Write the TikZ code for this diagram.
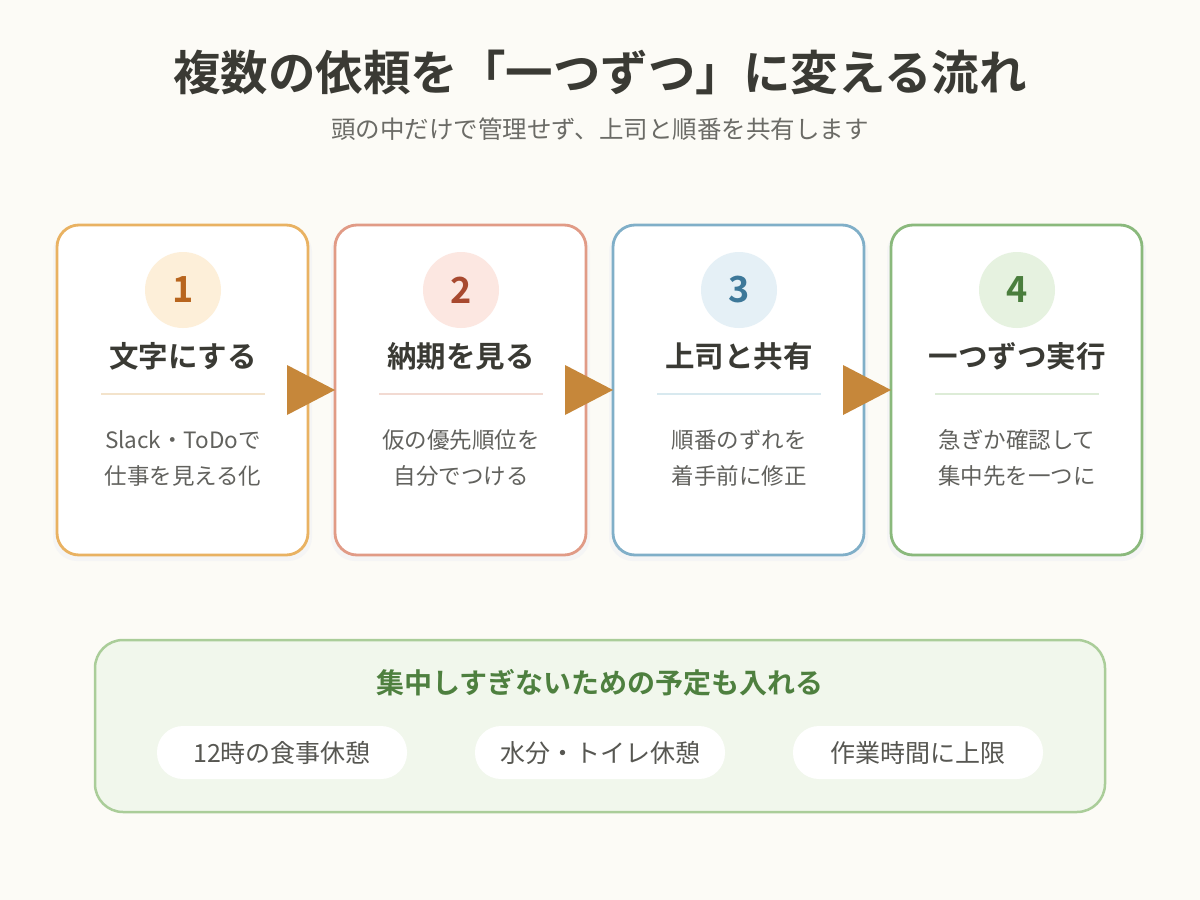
\documentclass[tikz,border=0pt]{standalone}
\usepackage{fontspec}
\setmainfont{Noto Sans CJK JP}
\newfontfamily\jpb{Noto Sans CJK JP}[BoldFont={* Bold}]
\usetikzlibrary{calc}
\definecolor{bg}{HTML}{FCFBF6}
\definecolor{ink}{HTML}{3A3A34}
\definecolor{sub}{HTML}{6B6B66}
\definecolor{arr}{HTML}{C6873A}
\definecolor{bA}{HTML}{E9B262}\definecolor{cA}{HTML}{FDEFD9}\definecolor{nA}{HTML}{B8651E}\definecolor{dA}{HTML}{F3E3CB}
\definecolor{bB}{HTML}{E19B86}\definecolor{cB}{HTML}{FCE7E1}\definecolor{nB}{HTML}{A8492F}\definecolor{dB}{HTML}{F2DAD2}
\definecolor{bC}{HTML}{80AFC8}\definecolor{cC}{HTML}{E5F0F6}\definecolor{nC}{HTML}{3D7899}\definecolor{dC}{HTML}{D8E9EF}
\definecolor{bD}{HTML}{8AB97C}\definecolor{cD}{HTML}{E6F2E0}\definecolor{nD}{HTML}{4A7E3D}\definecolor{dD}{HTML}{DDECD7}
\definecolor{boxfill}{HTML}{F1F7EC}
\definecolor{boxline}{HTML}{AACD99}
\definecolor{boxhead}{HTML}{4E803F}
\tikzset{
  card/.style={draw=#1, line width=2.8pt, fill=white, rounded corners=22pt},
  cardshadow/.style={fill=black!4, rounded corners=24pt},
  numcircle/.style={circle, fill=#1, minimum size=76pt, inner sep=0pt},
  numtext/.style={font=\jpb\fontsize{36}{36}\selectfont\bfseries, text=#1},
  heading/.style={font=\jpb\fontsize{29.5}{32}\selectfont\bfseries, text=ink},
  desc/.style={font=\fontsize{22.5}{36}\selectfont, text=ink!80, align=center},
  divider/.style={draw=#1, line width=2.5pt},
  flowarrow/.style={fill=arr},
  pill/.style={fill=white, rounded corners=26pt, minimum width=250pt, minimum height=53pt, font=\fontsize{25}{28}\selectfont, text=ink!85},
}
\begin{document}
\begin{tikzpicture}[x=1pt,y=-1pt]
\useasboundingbox[fill=bg] (0,0) rectangle (1200,900);
\node[font=\jpb\fontsize{47.5}{50}\selectfont\bfseries, text=ink] (title) at (600,72) {複数の依頼を「一つずつ」に変える流れ};
\node[font=\fontsize{24.5}{28}\selectfont, text=sub] (subtitle) at (600,129) {頭の中だけで管理せず、上司と順番を共有します};
% cards
\foreach \i/\x/\b/\c/\n/\d/\num/\head/\la/\lb in {
  1/57/bA/cA/nA/dA/1/文字にする/Slack・ToDoで/仕事を見える化,
  2/335/bB/cB/nB/dB/2/納期を見る/仮の優先順位を/自分でつける,
  3/613/bC/cC/nC/dC/3/上司と共有/順番のずれを/着手前に修正,
  4/891/bD/cD/nD/dD/4/一つずつ実行/急ぎか確認して/集中先を一つに}{
  \fill[cardshadow] (\x-4,228) rectangle (\x+255,561);
  \draw[card=\b] (\x,225) rectangle (\x+251,555);
  \coordinate (card\i-w) at (\x,390);
  \coordinate (card\i-e) at (\x+251,390);
  \node[numcircle=\c] (circ\i) at (\x+126,290) {};
  \node[numtext=\n] (num\i) at (circ\i) {\num};
  \node[heading] (head\i) at (\x+126,356) {\head};
  \coordinate (divl\i) at (\x+44,394);
  \coordinate (divr\i) at (\x+208,394);
  \draw[divider=\d] (divl\i) -- (divr\i);
  \node[desc] (desc\i) at (\x+126,458) {\la\\\lb};
}
% arrows
\foreach \a/\b in {1/2,2/3,3/4}{
  \fill[flowarrow] ($(card\b-w)+(-48,-25)$) -- ($(card\b-w)+(-48,25)$) -- (card\b-w) -- cycle;
}
% bottom box
\draw[fill=boxfill, draw=boxline, line width=2.5pt, rounded corners=28pt] (95,640) rectangle (1105,812);
\node[font=\jpb\fontsize{28}{30}\selectfont\bfseries, text=boxhead] (boxtitle) at (600,683) {集中しすぎないための予定も入れる};
\node[pill] (p1) at (282,752.5) {12時の食事休憩};
\node[pill] (p2) at (600,752.5) {水分・トイレ休憩};
\node[pill] (p3) at (918,752.5) {作業時間に上限};
\end{tikzpicture}
\end{document}
